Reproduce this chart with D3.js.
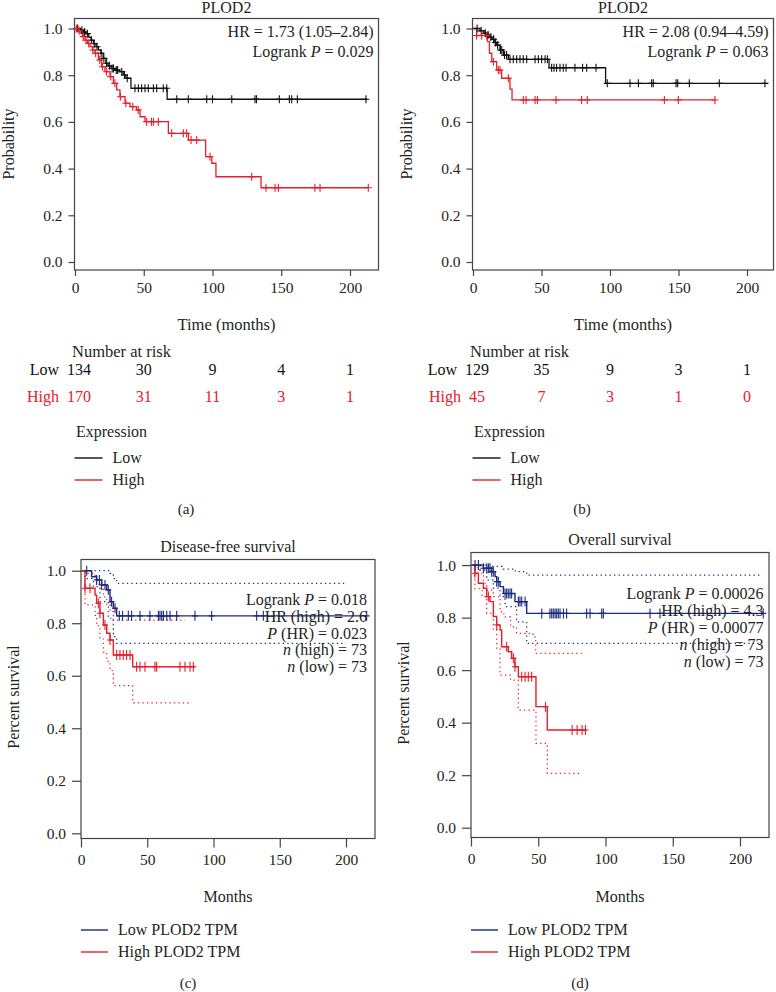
<!DOCTYPE html>
<html><head><meta charset="utf-8">
<script src="https://cdn.jsdelivr.net/npm/d3@7"></script>
<style>
body{margin:0;background:#fff;}
text{font-family:"Liberation Serif","Times New Roman",serif;fill:#231f20;}
</style></head>
<body>
<svg id="chart" width="776" height="992"></svg>
<script>
// ---------------- DATA ----------------
const timeTicks = [0, 50, 100, 150, 200];
const probTicks = [0, 0.2, 0.4, 0.6, 0.8, 1.0];

// Panel (a)
const aLowSteps = [[0,1],[4,0.993],[6,0.985],[8,0.978],[10,0.963],[11.6,0.95],[13.5,0.935],[15.3,0.922],[17,0.908],[18.9,0.894],[20.5,0.872],[22.5,0.851],[24,0.84],[26.2,0.829],[29,0.822],[32.2,0.815],[35,0.801],[37,0.787],[40.7,0.744],[67,0.697]];
const aLowEnd = 212.6;
const aLowCensor = [2,5,7,9,12,14,16,19,21,23,25,27,28,30,31,34,36,38,43.6,46.1,48.5,50.9,53.3,57,59.4,64.2,66.7,74,82.4,95.8,100,114,130.9,132,148.6,155.9,157.6,161.7,211.6];
const aHighSteps = [[0,1],[2,0.99],[3.6,0.98],[5.5,0.965],[7.3,0.95],[9,0.936],[10.9,0.922],[12.7,0.908],[14.5,0.894],[17,0.865],[19.4,0.836],[21.8,0.815],[25.5,0.794],[27.9,0.765],[30.3,0.737],[32.7,0.708],[36.4,0.68],[40,0.665],[44.8,0.651],[47.3,0.622],[50.9,0.601],[67.9,0.551],[82.4,0.522],[95,0.451],[99.5,0.423],[102.5,0.365],[135.3,0.318]];
const aHighEnd = 213.3;
const aHighCensor = [1,3,6,8,10,13,15,18,20,23,26,29,33,37,42,46,52.1,55.6,57,60.6,70.3,78.8,81.2,84.4,88.5,98.2,128.5,138.9,145.5,147.9,174.5,178.2,213.3];
const aRiskLow = [134, 30, 9, 4, 1];
const aRiskHigh = [170, 31, 11, 3, 1];
const aStats = ["HR = 1.73 (1.05–2.84)", "Logrank P = 0.029"];

// Panel (b)
const bLowSteps = [[0,1],[5.1,0.99],[8,0.98],[10,0.972],[12,0.963],[13.6,0.954],[15.5,0.94],[17.3,0.929],[19.7,0.908],[22.2,0.886],[25.8,0.868],[55.5,0.832],[96.8,0.765]];
const bLowEnd = 214.4;
const bLowCensor = [3,6,9,11,13,15,16.5,18,20,21,23,24.5,27,29.4,31.9,34.3,36.7,39.2,45.3,47.7,50.1,52.6,54.3,57.4,59.1,61,63.5,65.9,67.9,74.4,80,83,89.8,98,114.6,120.7,130.4,131.6,148.2,149.4,157.9,179.8,213.1];
const bHighSteps = [[0,1],[2.6,0.97],[10.5,0.944],[12,0.894],[13.7,0.858],[17.3,0.822],[20.9,0.787],[27,0.74],[28.5,0.694]];
const bHighEnd = 176.6;
const bHighCensor = [2.6,6.3,10,14.9,18.5,19.7,25.8,36.7,38.7,45.3,47,60.6,79.3,83.4,139.7,149.9,176.6];
const bRiskLow = [129, 35, 9, 3, 1];
const bRiskHigh = [45, 7, 3, 1, 0];
const bStats = ["HR = 2.08 (0.94–4.59)", "Logrank P = 0.063"];

// Panel (c) Disease-free survival
const cLowSteps = [[0,1],[8,0.977],[11.8,0.965],[15.6,0.946],[19.4,0.927],[21.9,0.882],[24.4,0.857],[26.9,0.828]];
const cLowEnd = 215.6;
const cLowCensor = [4.3,11.8,13.9,15.6,18.1,20.6,23.1,25.7,28.9,31.4,35.7,38.2,44.5,52,58.4,59.6,60.9,62.2,64.7,67.2,72.2,86,98.6,132.6,137.6,215.6];
const cLowUpper = [[0,1],[22,0.99],[24.4,0.97],[26.9,0.952]];
const cLowLower = [[0,1],[3,0.97],[9.3,0.939],[14.3,0.882],[20.6,0.819],[24.4,0.749],[26.9,0.723]];
const cLowCIEnd = 200;
const cHighSteps = [[0,1],[3,0.933],[10.6,0.907],[11.8,0.876],[14.3,0.838],[16.9,0.793],[19.4,0.762],[21.9,0.736],[24.4,0.679],[39,0.634]];
const cHighEnd = 86;
const cHighCensor = [3,6.8,13.1,14.3,18.1,21.9,26.9,29.4,31.9,34.4,37,42,44.5,48.3,55.8,57.1,74.7,78.5,82.3,84.8];
const cHighUpper = [[0,1],[3,0.99],[10.6,0.975],[11.8,0.955],[14.3,0.93],[16.9,0.9],[19.4,0.87],[21.9,0.845],[24.4,0.812]];
const cHighUpperEnd = 78.5;
const cHighLower = [[0,1],[3,0.87],[10.6,0.83],[11.8,0.79],[14.3,0.74],[16.9,0.69],[19.4,0.655],[21.9,0.62],[24.4,0.562],[39,0.497]];
const cHighLowerEnd = 82.3;
const cStats = [["Logrank ", "P", " = 0.018"], ["HR (high) = 2.6"], ["", "P", " (HR) = 0.023"], ["", "n", " (high) = 73"], ["", "n", " (low) = 73"]];

// Panel (d) Overall survival
const dLowSteps = [[0,1],[9.2,0.988],[15.4,0.975],[17.9,0.956],[19.1,0.937],[21.6,0.918],[24.1,0.892],[32.7,0.861],[41.4,0.816]];
const dLowEnd = 217.3;
const dLowCensor = [3,5.5,9.2,11.7,12.9,14.1,15.4,16.6,19.1,20.3,25.3,26.5,27.7,29,30.2,35.2,36.4,37.7,40.2,52.6,58.7,60,61.2,62.5,63.7,64.9,66.2,68.7,71.1,86,88.5,97.2,98.4,133.1,140.5,217.3];
const dLowUpper = [[0,1],[12,0.995],[24,0.985],[33,0.975],[41.4,0.962]];
const dLowLower = [[0,1],[6.7,0.981],[11.7,0.943],[16.6,0.912],[21.6,0.88],[25.3,0.842],[33.9,0.784],[41.4,0.702]];
const dLowCIEnd = 214.8;
const dHighSteps = [[0,1],[2.9,0.969],[5.5,0.931],[9.2,0.912],[11.7,0.88],[14.1,0.861],[16.6,0.804],[19.1,0.772],[21.6,0.753],[22.8,0.689],[27.7,0.67],[30.2,0.645],[32.7,0.613],[35.2,0.575],[48.3,0.461],[56.7,0.372]];
const dHighEnd = 86;
const dHighCensor = [2.9,12.9,19.1,26.5,31.5,32.7,37.7,40.2,42.6,45.1,55.4,75.2,78.9,82.6,85.1];
const dHighUpper = [[0,1],[2.9,0.99],[6.7,0.969],[9.2,0.931],[11.7,0.905],[16.6,0.88],[21.6,0.822],[24.4,0.803],[29.4,0.765],[33.9,0.74],[46.1,0.727],[48.1,0.664]];
const dHighUpperEnd = 82.4;
const dHighLower = [[0,1],[2.9,0.91],[8.3,0.88],[11.7,0.816],[16.6,0.753],[19.1,0.68],[21.6,0.581],[29.4,0.562],[35.2,0.448],[48.3,0.321],[56.7,0.207]];
const dHighLowerEnd = 82.1;
const dStats = [["Logrank ", "P", " = 0.00026"], ["HR (high) = 4.3"], ["", "P", " (HR) = 0.00077"], ["", "n", " (high) = 73"], ["", "n", " (low) = 73"]];

// ---------------- DRAWING ----------------
const RED = "#e5202a", BLACK = "#111", NAVY = "#1b2a7c", AXIS = "#444";
const svg = d3.select("#chart");

function survAt(steps, t){ let p = steps[0][1]; for(const s of steps){ if(s[0] <= t) p = s[1]; } return p; }
function stepLine(g, steps, end, x, y, color, dash, width){
  const pts = steps.concat([[end, steps[steps.length-1][1]]]);
  g.append("path").attr("d", d3.line().curve(d3.curveStepAfter).x(d=>x(d[0])).y(d=>y(d[1]))(pts))
    .attr("fill","none").attr("stroke",color).attr("stroke-width",width||1.3)
    .attr("stroke-dasharray", dash||null);
}
function censors(g, steps, times, x, y, color, h, w){
  g.append("g").selectAll("path").data(times).join("path")
    .attr("d", t => { const cx=x(t), cy=y(survAt(steps,t)); return `M${cx},${cy-h}V${cy+h}M${cx-w},${cy}H${cx+w}`; })
    .attr("stroke", color).attr("stroke-width", 1.1).attr("fill","none");
}
function frame(g, L, R, T, B){
  g.append("rect").attr("x",L).attr("y",T).attr("width",R-L).attr("height",B-T)
    .attr("fill","none").attr("stroke",AXIS).attr("stroke-width",1.2);
}
function axes(g, x, y, B, L, tickLen, pad, fs, xLabY){
  const xa = d3.axisBottom(x).tickValues(timeTicks).tickSize(tickLen).tickPadding(pad).tickFormat(d3.format("d"));
  const gx = g.append("g").attr("transform",`translate(0,${B})`).call(xa);
  const ya = d3.axisLeft(y).tickValues(probTicks).tickSize(tickLen).tickPadding(pad).tickFormat(d3.format(".1f"));
  const gy = g.append("g").attr("transform",`translate(${L},0)`).call(ya);
  [gx,gy].forEach(a=>{ a.select(".domain").remove(); a.selectAll("line").attr("stroke",AXIS).attr("stroke-width",1.2);
    a.selectAll("text").attr("font-family","Liberation Serif").attr("font-size",fs).attr("fill","#231f20"); });
}

// ---- Panels a, b ----
function kmPanel(o){
  const g = svg.append("g");
  const x = d3.scaleLinear().domain([0,200]).range([o.x0, o.x200]);
  const y = d3.scaleLinear().domain([0,1]).range([262, 28.5]);
  frame(g, o.L, o.R, 18.5, 270);
  axes(g, x, y, 270, o.L, 6, 6, 15.5);
  g.append("text").attr("x",(o.L+o.R)/2).attr("y",13).attr("text-anchor","middle").attr("font-size",16).text("PLOD2");
  o.stats.forEach((s,i)=>{
    const t = g.append("text").attr("x",o.R-5).attr("y",37+i*20).attr("text-anchor","end").attr("font-size",16);
    const parts = s.split("P =");
    if(parts.length>1){ t.append("tspan").text(parts[0]); t.append("tspan").attr("font-style","italic").text("P"); t.append("tspan").text(" ="+parts[1]); }
    else t.text(s);
  });
  const cg = g.append("g");
  stepLine(cg, o.lowSteps, o.lowEnd, x, y, BLACK);
  stepLine(cg, o.highSteps, o.highEnd, x, y, RED);
  censors(cg, o.lowSteps, o.lowCensor, x, y, BLACK, 4, 3.5);
  censors(cg, o.highSteps, o.highCensor, x, y, RED, 4, 3.5);
  g.append("text").attr("transform",`translate(${o.L-61},144) rotate(-90)`).attr("text-anchor","middle").attr("font-size",16).text("Probability");
  g.append("text").attr("x",(o.L+o.R)/2).attr("y",330).attr("text-anchor","middle").attr("font-size",16.5).text("Time (months)");
  g.append("text").attr("x",x(0)-3).attr("y",357).attr("font-size",16.5).text("Number at risk");
  [[o.riskLow,"Low",BLACK,375],[o.riskHigh,"High",RED,402]].forEach(([vals,lab,col,yy])=>{
    let firstW = 0;
    vals.forEach((v,i)=>{
      const t = g.append("text").attr("x", x(timeTicks[i]) + (i===0?4:0)).attr("y",yy)
        .attr("text-anchor","middle").attr("font-size",16).style("fill",col).text(v);
      if(i===0) firstW = t.node().getComputedTextLength();
    });
    g.append("text").attr("x", x(0)+4-firstW/2-8).attr("y",yy).attr("text-anchor","end").attr("font-size",16).style("fill",col).text(lab);
  });
  g.append("text").attr("x",x(0)+1).attr("y",437).attr("font-size",16).text("Expression");
  [["Low",BLACK,458],["High",RED,480]].forEach(([lab,col,yy])=>{
    g.append("line").attr("x1",o.L).attr("x2",o.L+28).attr("y1",yy).attr("y2",yy).attr("stroke",col).attr("stroke-width",1.4);
    g.append("text").attr("x",o.L+38).attr("y",yy+5).attr("font-size",16).text(lab);
  });
  g.append("text").attr("x",o.cap).attr("y",514).attr("text-anchor","middle").attr("font-size",15).text(o.caption);
}
kmPanel({L:74.5,R:378.5,x0:75,x200:350,stats:aStats,lowSteps:aLowSteps,lowEnd:aLowEnd,lowCensor:aLowCensor,
  highSteps:aHighSteps,highEnd:aHighEnd,highCensor:aHighCensor,riskLow:aRiskLow,riskHigh:aRiskHigh,cap:186,caption:"(a)"});
kmPanel({L:472.5,R:773.5,x0:473,x200:747,stats:bStats,lowSteps:bLowSteps,lowEnd:bLowEnd,lowCensor:bLowCensor,
  highSteps:bHighSteps,highEnd:bHighEnd,highCensor:bHighCensor,riskLow:bRiskLow,riskHigh:bRiskHigh,cap:582,caption:"(b)"});

// ---- Panels c, d ----
function gepiaPanel(o){
  const g = svg.append("g");
  const x = d3.scaleLinear().domain([0,200]).range([o.L, o.x200]);
  const y = d3.scaleLinear().domain([0,1]).range([o.y0, o.y1]);
  frame(g, o.L, o.R, o.T, o.B);
  axes(g, x, y, o.B, o.L, 9, 6, 15.5);
  g.append("text").attr("x",(o.L+o.R)/2).attr("y",o.T-8).attr("text-anchor","middle").attr("font-size",16).text(o.title);
  const cg = g.append("g");
  stepLine(cg, o.lowUpper, o.lowCIEnd, x, y, NAVY, "1.3,3.2", 1.2);
  stepLine(cg, o.lowLower, o.lowCIEnd, x, y, NAVY, "1.3,3.2", 1.2);
  stepLine(cg, o.highUpper, o.highUpperEnd, x, y, RED, "1.3,3.2", 1.2);
  stepLine(cg, o.highLower, o.highLowerEnd, x, y, RED, "1.3,3.2", 1.2);
  stepLine(cg, o.lowSteps, o.lowEnd, x, y, NAVY, null, 1.4);
  stepLine(cg, o.highSteps, o.highEnd, x, y, RED, null, 1.4);
  censors(cg, o.lowSteps, o.lowCensor, x, y, NAVY, 5, 3);
  censors(cg, o.highSteps, o.highCensor, x, y, RED, 5, 3);
  o.stats.forEach((parts,i)=>{
    const t = g.append("text").attr("x",o.tx).attr("y",o.ty+i*o.dy).attr("text-anchor","end").attr("font-size",16);
    if(parts.length===1) t.text(parts[0]);
    else { if(parts[0]) t.append("tspan").text(parts[0]); t.append("tspan").attr("font-style","italic").text(parts[1]); t.append("tspan").text(parts[2]); }
  });
  g.append("text").attr("transform",`translate(${o.L-62},${(o.T+o.B)/2-2}) rotate(-90)`).attr("text-anchor","middle").attr("font-size",16).text("Percent survival");
  g.append("text").attr("x",(o.L+o.R)/2).attr("y",902).attr("text-anchor","middle").attr("font-size",16).text("Months");
  [["Low PLOD2 TPM",NAVY,930],["High PLOD2 TPM",RED,952]].forEach(([lab,col,yy])=>{
    g.append("line").attr("x1",o.L).attr("x2",o.L+27).attr("y1",yy).attr("y2",yy).attr("stroke",col).attr("stroke-width",1.4);
    g.append("text").attr("x",o.L+37).attr("y",yy+5).attr("font-size",16).text(lab);
  });
  g.append("text").attr("x",o.cap).attr("y",988).attr("text-anchor","middle").attr("font-size",15).text(o.caption);
}
gepiaPanel({L:81,R:375,T:559.5,B:838.5,x200:346,y0:833.3,y1:570.7,title:"Disease-free survival",
  lowSteps:cLowSteps,lowEnd:cLowEnd,lowCensor:cLowCensor,lowUpper:cLowUpper,lowLower:cLowLower,lowCIEnd:cLowCIEnd,
  highSteps:cHighSteps,highEnd:cHighEnd,highCensor:cHighCensor,highUpper:cHighUpper,highUpperEnd:cHighUpperEnd,highLower:cHighLower,highLowerEnd:cHighLowerEnd,
  stats:cStats,tx:367,ty:605,dy:16.8,cap:188,caption:"(c)"});
gepiaPanel({L:471,R:769,T:552.5,B:837.5,x200:740,y0:827.7,y1:565.1,title:"Overall survival",
  lowSteps:dLowSteps,lowEnd:dLowEnd,lowCensor:dLowCensor,lowUpper:dLowUpper,lowLower:dLowLower,lowCIEnd:dLowCIEnd,
  highSteps:dHighSteps,highEnd:dHighEnd,highCensor:dHighCensor,highUpper:dHighUpper,highUpperEnd:dHighUpperEnd,highLower:dHighLower,highLowerEnd:dHighLowerEnd,
  stats:dStats,tx:763.5,ty:598.5,dy:17.2,cap:580,caption:"(d)"});
</script>
</body></html>
